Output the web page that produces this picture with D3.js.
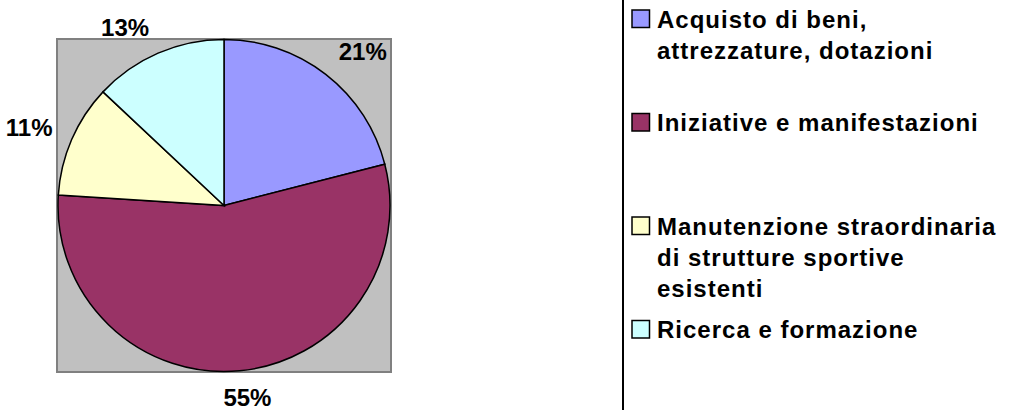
<!DOCTYPE html>
<html lang="it">
<head>
<meta charset="UTF-8" />
<title>Ripartizione contributi</title>
<script src="https://d3js.org/d3.v7.min.js"></script>
<style>
    body { margin: 0; background: #fff; }
    svg { display: block; }
    text { font-family: "Liberation Sans", Arial, sans-serif; font-weight: bold; fill: #000; }
    .slice { stroke: #000; stroke-width: 1.5px; }
    .pct { font-size: 24px; }
    .leg text { font-size: 24px; letter-spacing: 1px; }
    .leg rect { stroke: #000; stroke-width: 1.5px; }
</style>
</head>
<body>
<svg width="1009" height="410"></svg>
<script>
    // data
    const categories = [
        "Acquisto di beni, attrezzature, dotazioni",
        "Iniziative e manifestazioni",
        "Manutenzione straordinaria di strutture sportive esistenti",
        "Ricerca e formazione"
    ];
    const legendLines = [
        ["Acquisto di beni,", "attrezzature, dotazioni"],
        ["Iniziative e manifestazioni"],
        ["Manutenzione straordinaria", "di strutture sportive", "esistenti"],
        ["Ricerca e formazione"]
    ];
    const values = [21, 55, 11, 13];
    const colors = ["#9999FF", "#993366", "#FFFFCC", "#CCFFFF"];

    const svg = d3.select("svg");

    // plot area
    const plot = { x: 57, y: 39, w: 334, h: 333 };
    svg.append("rect")
        .attr("x", plot.x).attr("y", plot.y)
        .attr("width", plot.w).attr("height", plot.h)
        .attr("fill", "#C0C0C0")
        .attr("stroke", "#808080")
        .attr("stroke-width", 2);

    const cx = plot.x + plot.w / 2, cy = plot.y + plot.h / 2;
    const radius = 166;

    const pie = d3.pie().sort(null).value(d => d);
    const arcs = pie(values);
    const arc = d3.arc().innerRadius(0).outerRadius(radius);

    const g = svg.append("g").attr("transform", `translate(${cx},${cy})`);

    g.selectAll("path.slice")
        .data(arcs)
        .join("path")
        .attr("class", "slice")
        .attr("fill", (d, i) => colors[i])
        .attr("d", arc);

    // percent labels outside the pie
    const total = d3.sum(values);
    const labelR = radius + 18;
    const clamp = v => Math.max(-1, Math.min(1, v));
    g.selectAll("text.pct")
        .data(arcs)
        .join("text")
        .attr("class", "pct")
        .attr("text-anchor", "middle")
        .attr("dominant-baseline", "central")
        .attr("x", d => {
            const a = (d.startAngle + d.endAngle) / 2;
            return labelR * Math.sin(a) + 26 * clamp(Math.sin(a) * 2.5);
        })
        .attr("y", d => {
            const a = (d.startAngle + d.endAngle) / 2;
            return -labelR * Math.cos(a) - 9 * clamp(Math.cos(a) * 1.5);
        })
        .text(d => Math.round(d.value / total * 100) + "%");

    // legend
    const legX = 623;
    svg.append("rect")
        .attr("x", legX).attr("y", -10)
        .attr("width", 500).attr("height", 440)
        .attr("fill", "none")
        .attr("stroke", "#000")
        .attr("stroke-width", 2);

    const legY = d3.scaleLinear().domain([0, 1]).range([27.5, 131]);
    const lineH = 31;

    const item = svg.selectAll("g.leg")
        .data(categories)
        .join("g")
        .attr("class", "leg")
        .attr("transform", (d, i) => `translate(0,${legY(i)})`);

    item.append("rect")
        .attr("x", 632).attr("y", -17.5)
        .attr("width", 17.5).attr("height", 17.5)
        .attr("fill", (d, i) => colors[i]);

    item.append("text")
        .attr("x", 657)
        .each(function (d, i) {
            d3.select(this).selectAll("tspan")
                .data(legendLines[i])
                .join("tspan")
                .attr("x", 657)
                .attr("dy", (t, j) => j === 0 ? 0 : lineH)
                .text(t => t);
        });
</script>
</body>
</html>
